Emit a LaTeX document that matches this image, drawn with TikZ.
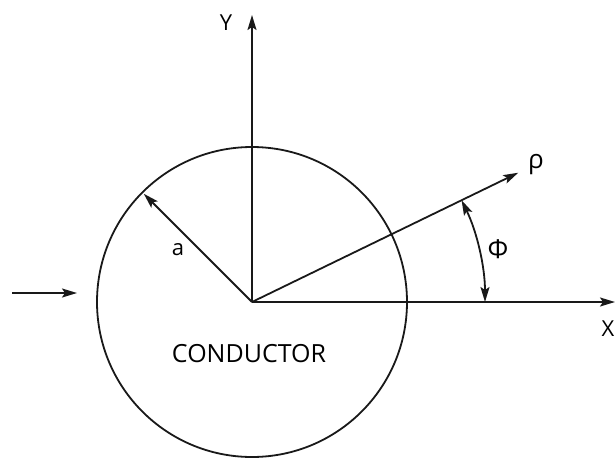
\documentclass[tikz,border=0pt]{standalone}
\usepackage{fontspec}
\setmainfont{Open Sans}
\usetikzlibrary{arrows.meta, calc}

\begin{document}
\begin{tikzpicture}[
    x=0.5pt, y=0.5pt,
    every node/.style={font=\fontsize{11}{13}\selectfont, inner sep=0pt},
    greek/.style={font=\fontsize{13}{15}\selectfont},
    line/.style={line width=0.9pt, draw=black!90},
    arr/.style={line, -{Stealth[length=7.5pt, width=4.5pt, inset=1.5pt]}},
    twoarr/.style={line, {Stealth[length=7.5pt, width=4.5pt, inset=1.5pt]}-{Stealth[length=7.5pt, width=4.5pt, inset=1.5pt]}},
]
    \clip (0,0) rectangle (616,457);
    % centre of the conductor and end points
    \coordinate (O) at (252,155);
    \coordinate (yend) at (252,442);
    \coordinate (xend) at (615,155);
    \coordinate (rim) at ($(O)+(135:153)$);
    \coordinate (rhoend) at ($(O)+(25.9:296)$);
    \coordinate (inA) at (12,164);
    \coordinate (inB) at (77,164);

    \draw[line] (O) circle (155);
    \draw[arr] (O) -- (yend);
    \draw[arr] (O) -- (xend);
    \draw[arr] (O) -- (rim);
    \draw[arr] (O) -- (rhoend);
    \draw[arr] (inA) -- (inB);
    \draw[twoarr] ($(O)+(0:233)$) arc[start angle=0, end angle=25.9, radius=233];

    \node (ylab) at (226,434) {Y};
    \node (xlab) at (608,128) {X};
    \node (alab) at (178,207) {a};
    \node[greek] (rholab) at (536,292) {ρ};
    \node[greek] (philab) at (498,208) {Φ};
    \node[font=\fontsize{12.5}{14}\selectfont] (cond) at (249,103) {CONDUCTOR};
\end{tikzpicture}
\end{document}
